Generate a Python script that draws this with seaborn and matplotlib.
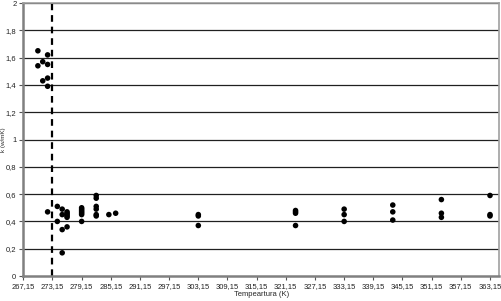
import matplotlib
matplotlib.use("Agg")
import matplotlib.pyplot as plt
import seaborn as sns
import pandas as pd
import numpy as np

# ---- data ----
temp_ice = [270.15, 270.15, 271.15, 271.15, 272.15, 272.15, 272.15, 272.15]
k_ice = [1.65, 1.54, 1.57, 1.43, 1.62, 1.55, 1.45, 1.39]

temp_water = [272.15,
              274.15, 274.15,
              275.15, 275.15, 275.15, 275.15,
              276.15, 276.15, 276.15, 276.15, 276.15, 276.15,
              279.15, 279.15, 279.15, 279.15, 279.15, 279.15, 279.15,
              282.15, 282.15, 282.15, 282.15, 282.15, 282.15,
              284.75, 286.15,
              303.15, 303.15, 303.15,
              323.15, 323.15, 323.15, 323.15,
              333.15, 333.15, 333.15,
              343.15, 343.15, 343.15,
              353.15, 353.15, 353.15,
              363.15, 363.15, 363.15]
k_water = [0.47,
           0.51, 0.40,
           0.49, 0.45, 0.34, 0.17,
           0.47, 0.46, 0.45, 0.44, 0.43, 0.36,
           0.50, 0.49, 0.48, 0.47, 0.46, 0.45, 0.40,
           0.59, 0.57, 0.51, 0.49, 0.45, 0.44,
           0.45, 0.46,
           0.45, 0.44, 0.37,
           0.48, 0.47, 0.46, 0.37,
           0.49, 0.45, 0.40,
           0.52, 0.47, 0.41,
           0.56, 0.46, 0.43,
           0.59, 0.45, 0.44]

freezing_point = 273.15
x_ticks = [267.15 + 6 * i for i in range(17)]
x_tick_labels = [f"{v:.2f}".replace(".", ",") for v in x_ticks]
y_ticks = [0, 0.2, 0.4, 0.6, 0.8, 1.0, 1.2, 1.4, 1.6, 1.8, 2.0]
y_tick_labels = ["0", "0,2", "0,4", "0,6", "0,8", "1", "1,2", "1,4", "1,6", "1,8", "2"]
x_label = "Tempeartura (K)"
y_label = "k (w/mK)"

df = pd.DataFrame({"T": temp_ice + temp_water, "k": k_ice + k_water})

sns.set_style("white")
plt.rcParams["font.family"] = ["Liberation Sans", "DejaVu Sans"]

fig = plt.figure(figsize=(5.01, 3.01), dpi=100)
ax = fig.add_axes([0.0465, 0.083, 0.9495, 0.907])

for yv in y_ticks[1:]:
    ax.axhline(yv, color="#202020", lw=0.9, zorder=1)

ax.axvline(freezing_point, color="black", lw=1.6, ls=(0, (3, 2.2)), zorder=2)

sns.scatterplot(data=df, x="T", y="k", color="black", s=16, edgecolor="none",
                ax=ax, zorder=3, legend=False)

ax.set_xlim(267.15, 365.0)
ax.set_ylim(0, 2)
ax.set_xticks(x_ticks)
ax.set_xticklabels(x_tick_labels, fontsize=5.5, color="#222222")
ax.set_yticks(y_ticks)
ax.set_yticklabels(y_tick_labels, fontsize=5.5, color="#222222")
ax.tick_params(axis="both", length=3, width=0.8, color="#555555", pad=2,
               direction="out", bottom=True, left=True)
ax.set_xlabel(x_label, fontsize=5.5, labelpad=1)
ax.set_ylabel(y_label, fontsize=4.5)
ax.yaxis.set_label_coords(-0.037, 0.5)

for side in ["left", "bottom"]:
    ax.spines[side].set_color("#808080")
    ax.spines[side].set_linewidth(1.8)
for side in ["right", "top"]:
    ax.spines[side].set_color("#a0a0a0")
    ax.spines[side].set_linewidth(1.2)

fig.savefig("out.png", dpi=100)
